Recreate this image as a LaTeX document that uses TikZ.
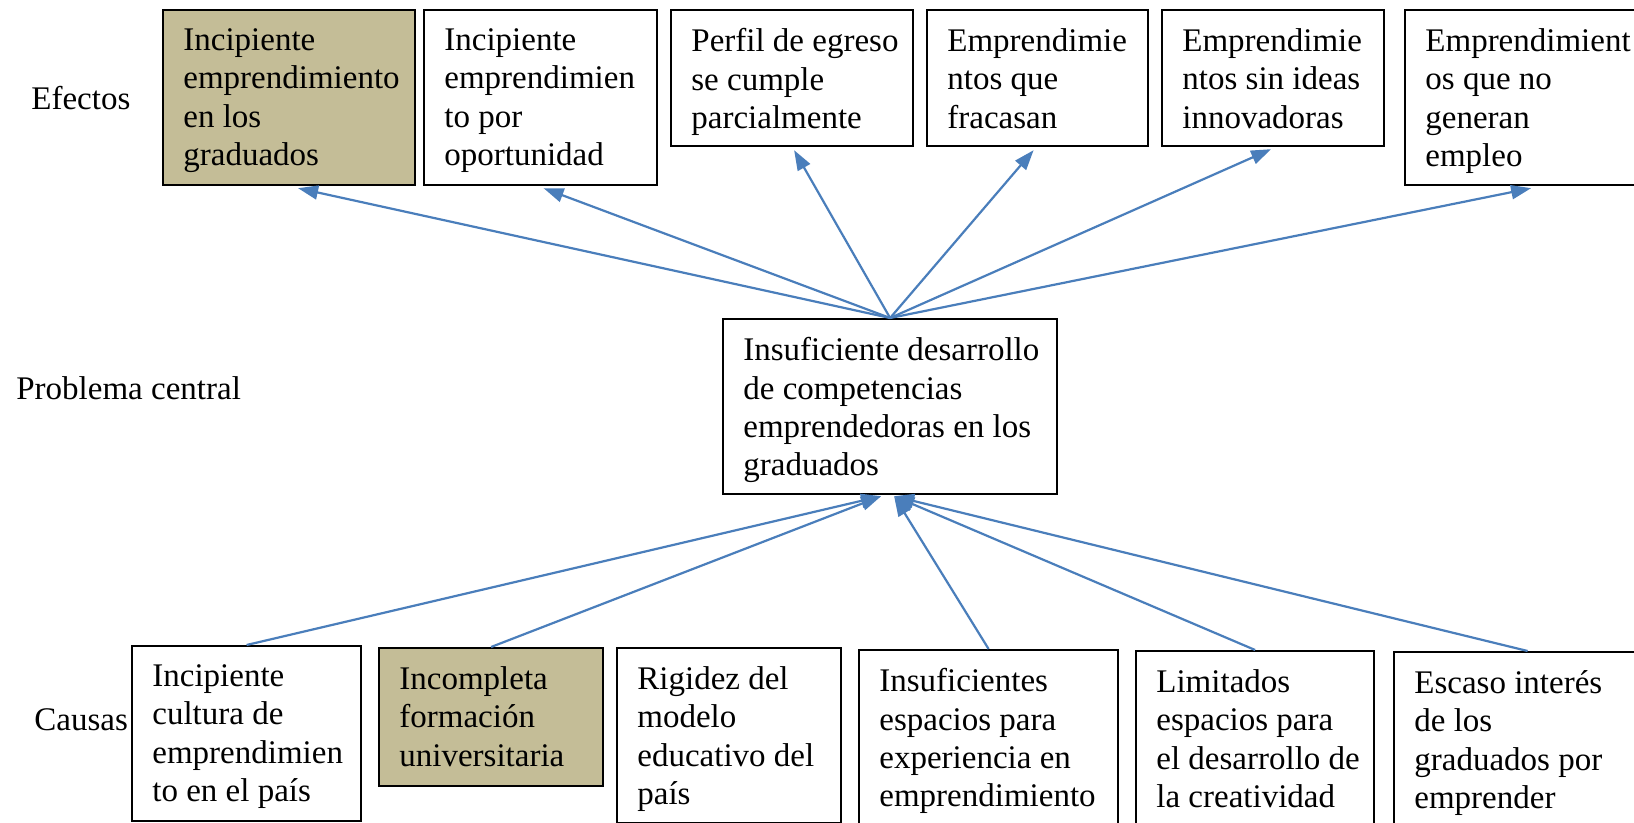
\documentclass[tikz,border=0pt]{standalone}
\usepackage{fontspec}
\setmainfont{Liberation Serif}
\usetikzlibrary{arrows.meta}
\definecolor{tanfill}{RGB}{196,189,151}
\definecolor{arrowblue}{RGB}{74,126,187}
\newcommand\diafont{\fontsize{16.5}{19.2}\selectfont}
\newcommand\mybox[7]{%
  \node[#2, minimum width={(#5-#3)*0.5pt}, minimum height={(#6-#4)*0.5pt}] (#1) at (#3,#4) {};
  \node[txt] (#1t) at ([xshift=10.5pt,yshift=-9.5pt]#1.north west) {#7};
}
\tikzset{
  box/.style={draw=black, line width=1.1pt, anchor=north west, inner sep=0pt, fill=white},
  tanbox/.style={box, fill=tanfill},
  txt/.style={anchor=north west, inner sep=0pt, align=left, font=\diafont, execute at begin node=\strut},
  lbl/.style={anchor=base west, inner sep=0pt, font=\diafont},
  arr/.style={draw=arrowblue, line width=1.1pt, -{Triangle[length=10pt,width=7pt]}}
}
\begin{document}
\begin{tikzpicture}[x=0.5pt,y=-0.5pt]
\clip (0,0) rectangle (1634,823);
\fill[white] (0,0) rectangle (1634,823);

% labels
\node[lbl] (ef) at (31,110) {Efectos};
\node[lbl] (pc) at (16,400) {Problema central};
\node[lbl] (ca) at (34,730) {Causas};

% effects
\mybox{b1}{tanbox}{162}{9}{414}{184}{Incipiente\\emprendimiento\\en los\\graduados}
\mybox{b2}{box}{423}{9}{656}{184}{Incipiente\\emprendimien\\to por\\oportunidad}
\mybox{b3}{box}{670}{9}{912}{145}{Perfil de egreso\\se cumple\\parcialmente}
\mybox{b4}{box}{926}{9}{1147}{145}{Emprendimie\\ntos que\\fracasan}
\mybox{b5}{box}{1161}{9}{1383}{145}{Emprendimie\\ntos sin ideas\\innovadoras}
\mybox{b6}{box}{1404}{9}{1660}{184}{Emprendimient\\os que no\\generan\\empleo}

% central problem
\mybox{cen}{box}{722}{318}{1056}{493}{Insuficiente desarrollo\\de competencias\\emprendedoras en los\\graduados}

% causes
\mybox{c1}{box}{131}{645}{360}{820}{Incipiente\\cultura de\\emprendimien\\to en el país}
\mybox{c2}{tanbox}{378}{647}{602}{785}{Incompleta\\formación\\universitaria}
\mybox{c3}{box}{616}{647}{840}{822}{Rigidez del\\modelo\\educativo del\\país}
\mybox{c4}{box}{858}{649}{1117}{840}{Insuficientes\\espacios para\\experiencia en\\emprendimiento}
\mybox{c5}{box}{1135}{650}{1373}{840}{Limitados\\espacios para\\el desarrollo de\\la creatividad}
\mybox{c6}{box}{1393}{651}{1660}{840}{Escaso interés\\de los\\graduados por\\emprender}

% effect arrows
\draw[arr] (cen.north) -- ([xshift=4.5pt,yshift=-1pt]b1.south);
\draw[arr] (cen.north) -- ([xshift=1.5pt,yshift=-1pt]b2.south);
\draw[arr] (cen.north) -- ([xshift=1pt,yshift=-1.5pt]b3.south);
\draw[arr] (cen.north) -- ([xshift=-2pt,yshift=-1.5pt]b4.south);
\draw[arr] (cen.north) -- ([xshift=-1pt,yshift=-1pt]b5.south);
\draw[arr] (cen.north) -- ([xshift=-1pt,yshift=-1pt]b6.south);

% cause arrows
\coordinate (inL) at ([xshift=-4.5pt,yshift=-0.5pt]cen.south);
\coordinate (inR) at ([xshift=2pt,yshift=-0.5pt]cen.south);
\draw[arr] (c1.north) -- (inL);
\draw[arr] (c2.north) -- (inL);
\draw[arr] (c4.north) -- (inR);
\draw[arr] (c5.north) -- (inR);
\draw[arr] (c6.north) -- (inR);
\end{tikzpicture}
\end{document}
